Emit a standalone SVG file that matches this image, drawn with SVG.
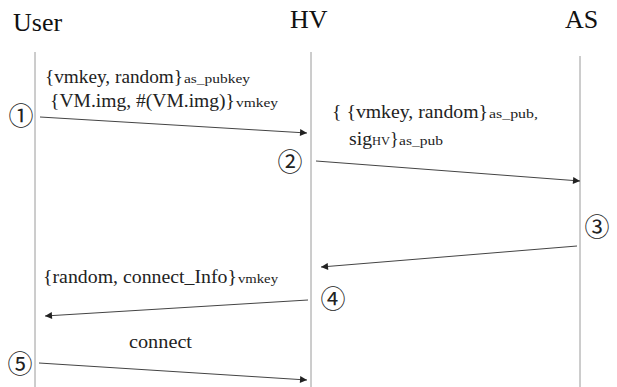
<svg xmlns="http://www.w3.org/2000/svg" width="617" height="387" viewBox="0 0 617 387">
<style>
.title{font-family:"Liberation Serif","Times New Roman",serif;font-size:26px;fill:#111}
.msg{font-family:"Liberation Serif","Times New Roman",serif;font-size:18px;fill:#222}
.sub{font-size:13px}
.num{font-family:"Noto Sans CJK JP","DejaVu Sans",sans-serif;font-size:25px;fill:#222;text-anchor:middle;dominant-baseline:central}
.life{stroke:#9a9a9a;stroke-width:1;fill:none}
.arrow{stroke:#444;stroke-width:1;fill:none;marker-end:url(#ah)}
</style>
<defs>
<marker id="ah" viewBox="0 0 10 10" refX="10" refY="5" markerWidth="9" markerHeight="7" markerUnits="userSpaceOnUse" orient="auto">
<path d="M0,0 L10,5 L0,10 z" fill="#222"/>
</marker>
</defs>
<rect width="617" height="387" fill="#fff"/>
<g id="user"><text class="title" x="13" y="31">User</text><line class="life" x1="35" y1="52" x2="35" y2="387"/></g>
<g id="hv"><text class="title" x="290" y="28">HV</text><line class="life" x1="311" y1="52" x2="311" y2="387"/></g>
<g id="as"><text class="title" x="565" y="28">AS</text><line class="life" x1="580" y1="56" x2="580" y2="387"/></g>
<g id="connectors">
<line class="arrow" x1="40" y1="117" x2="307" y2="133"/>
<line class="arrow" x1="316" y1="161" x2="580" y2="181"/>
<line class="arrow" x1="577" y1="246" x2="321" y2="267"/>
<line class="arrow" x1="308" y1="300" x2="45" y2="316"/>
<line class="arrow" x1="39" y1="363" x2="307" y2="380"/>
</g>
<g id="labels">
<text class="msg" y="83"><tspan x="45" textLength="138" lengthAdjust="spacingAndGlyphs">{vmkey, random}</tspan><tspan class="sub" x="184" textLength="66" lengthAdjust="spacingAndGlyphs">as_pubkey</tspan></text>
<text class="msg" y="107"><tspan x="50" textLength="185" lengthAdjust="spacingAndGlyphs">{VM.img, #(VM.img)}</tspan><tspan class="sub" x="236" textLength="42" lengthAdjust="spacingAndGlyphs">vmkey</tspan></text>
<text class="msg" y="118"><tspan x="332" textLength="156" lengthAdjust="spacingAndGlyphs">{ {vmkey, random}</tspan><tspan class="sub" x="489" textLength="49" lengthAdjust="spacingAndGlyphs">as_pub,</tspan></text>
<text class="msg" y="145"><tspan x="349" textLength="23" lengthAdjust="spacingAndGlyphs">sig</tspan><tspan class="sub" x="372" textLength="18" lengthAdjust="spacingAndGlyphs">HV</tspan><tspan x="390">}</tspan><tspan class="sub" x="399" textLength="44" lengthAdjust="spacingAndGlyphs">as_pub</tspan></text>
<text class="msg" y="283"><tspan x="43" textLength="194" lengthAdjust="spacingAndGlyphs">{random, connect_Info}</tspan><tspan class="sub" x="238" textLength="40" lengthAdjust="spacingAndGlyphs">vmkey</tspan></text>
<text class="msg" x="129" y="348" textLength="63" lengthAdjust="spacingAndGlyphs">connect</text>
</g>
<g id="steps">
<text class="num" x="21" y="114">①</text>
<text class="num" x="290" y="160">②</text>
<text class="num" x="597" y="225">③</text>
<text class="num" x="333" y="297">④</text>
<text class="num" x="20" y="362">⑤</text>
</g>
</svg>
